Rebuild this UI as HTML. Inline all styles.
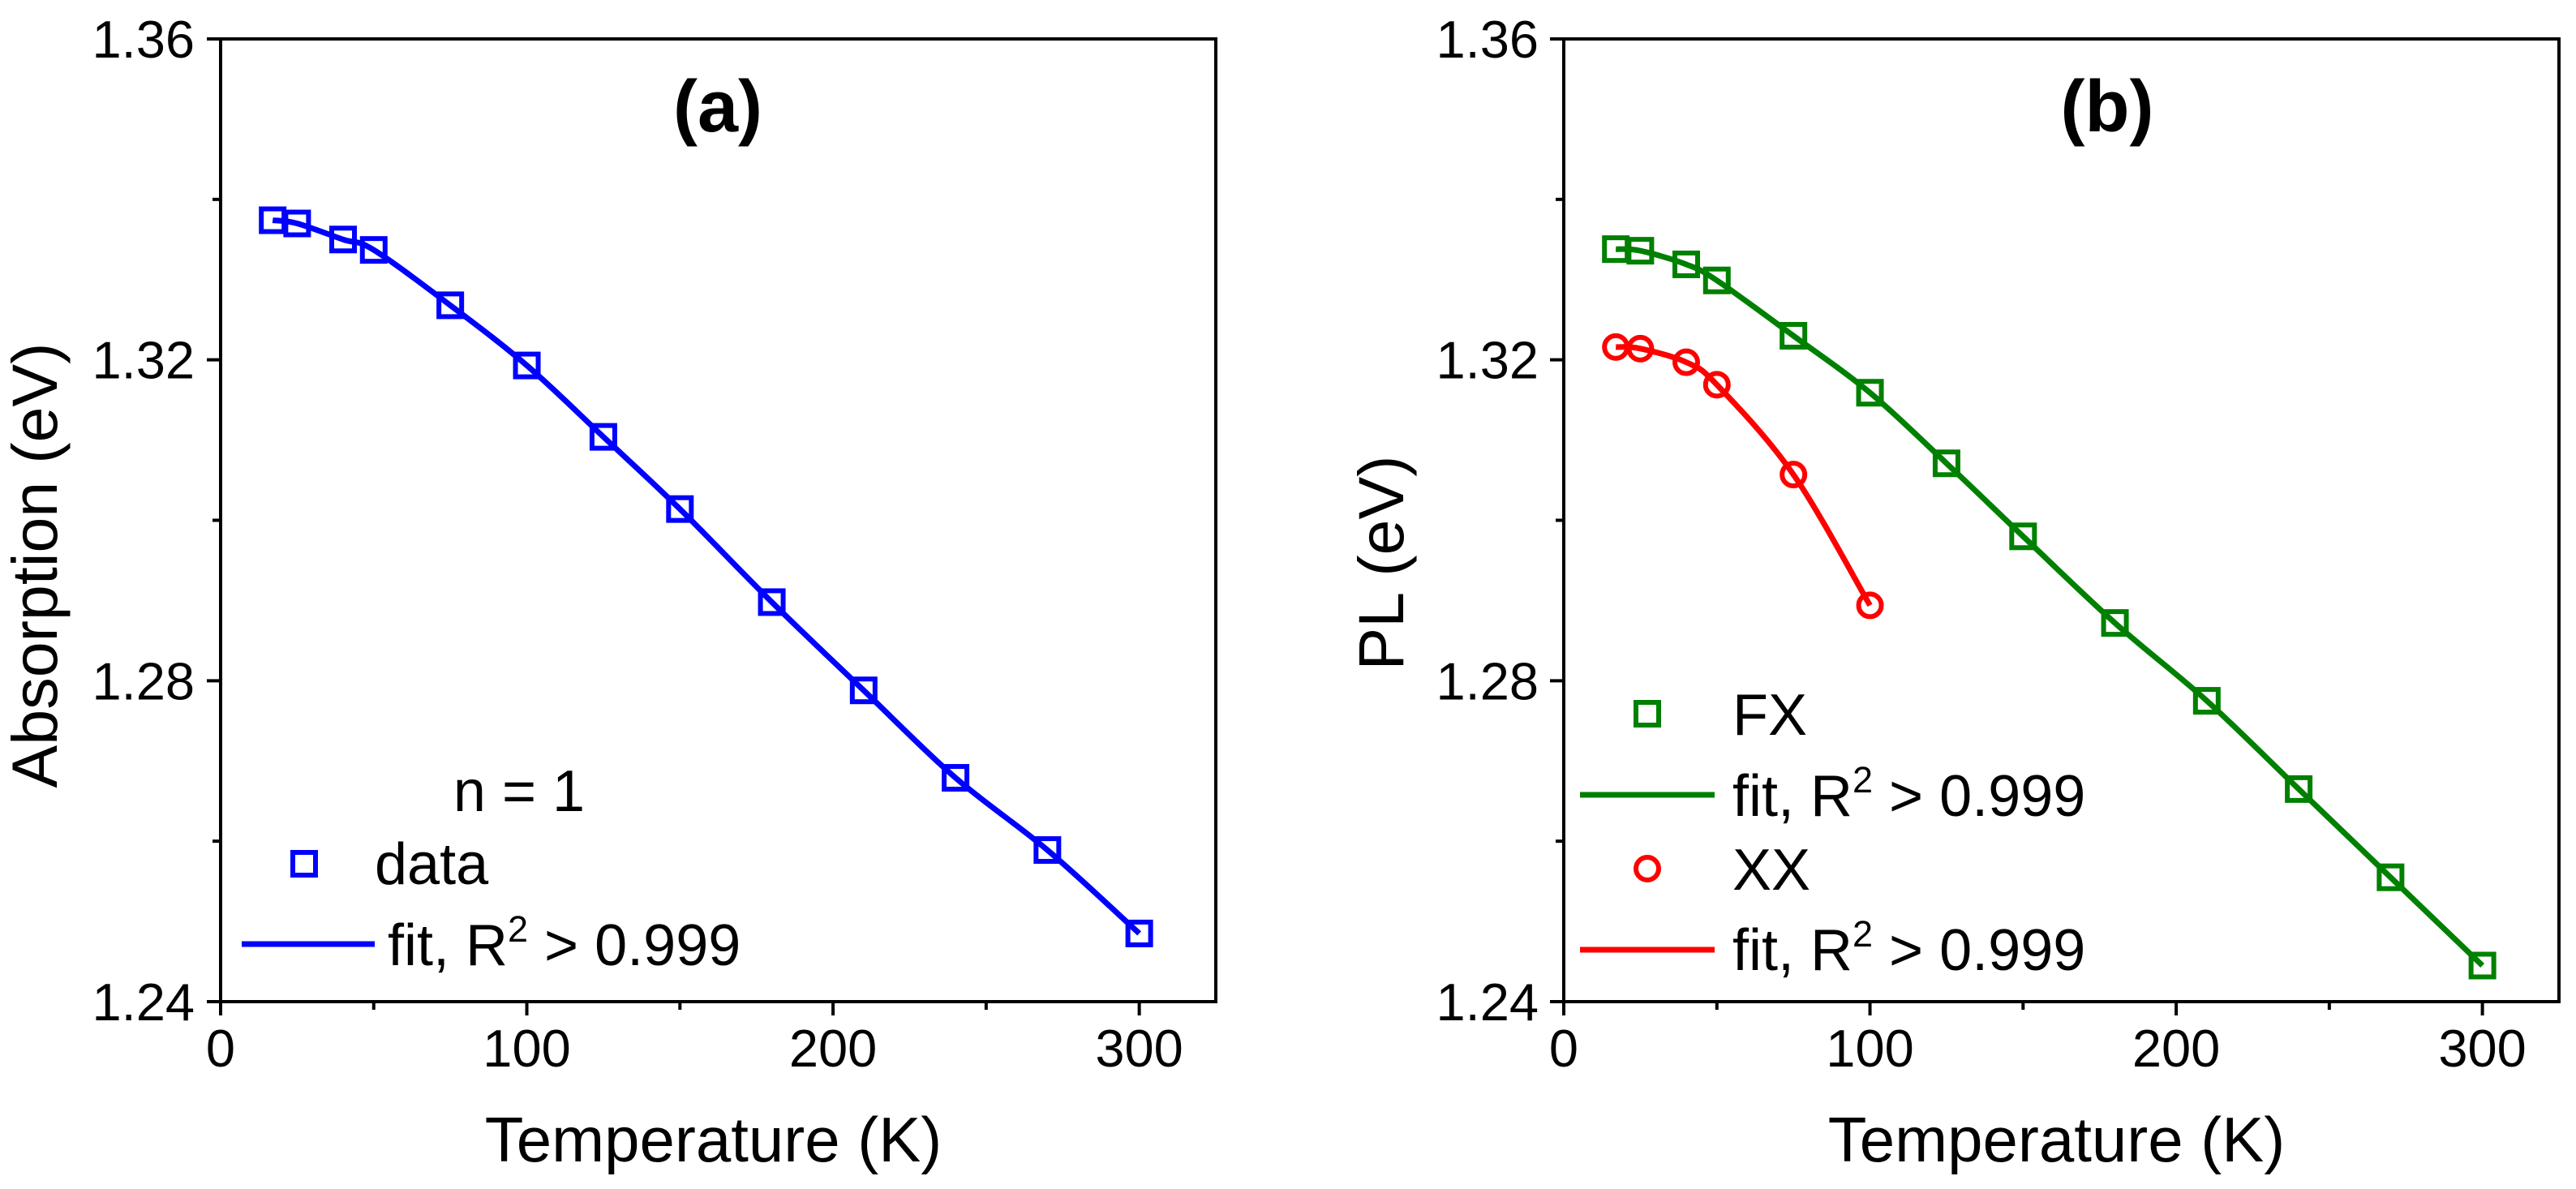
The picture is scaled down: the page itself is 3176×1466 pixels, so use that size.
<!DOCTYPE html>
<html><head><meta charset="utf-8">
<style>
html,body{margin:0;padding:0;background:#fff;}
svg{display:block;font-family:"Liberation Sans",Arial,sans-serif;}
</style></head>
<body>
<svg id="chart" width="3176" height="1466" viewBox="0 0 3176 1466" xmlns="http://www.w3.org/2000/svg"></svg>
<script>
const temps = [17, 25, 40, 50, 75, 100, 125, 150, 180, 210, 240, 270, 300];
const absorption = [1.3374, 1.3370, 1.3350, 1.3337, 1.3268, 1.3193, 1.3104, 1.3014, 1.2898, 1.2788, 1.2679, 1.2589, 1.2485];
const fxValues = [1.3338, 1.3336, 1.3319, 1.3299, 1.3230, 1.3159, 1.3071, 1.2980, 1.2872, 1.2775, 1.2665, 1.2555, 1.2445];
const xxTemps = [17, 25, 40, 50, 75, 100];
const xxValues = [1.3216, 1.3214, 1.3197, 1.3169, 1.3057, 1.2894];
const xTicks = [0, 100, 200, 300];
const xMinor = [50, 150, 250];
const yTicks = [1.24, 1.28, 1.32, 1.36];
const yMinor = [1.26, 1.30, 1.34];
const yTickLabels = ["1.24", "1.28", "1.32", "1.36"];

const NS = "http://www.w3.org/2000/svg";
const svg = document.getElementById('chart');
function mk(tag, attrs, parent, text){
  const e = document.createElementNS(NS, tag);
  for (const k in attrs) e.setAttribute(k, attrs[k]);
  if (text !== undefined) e.textContent = text;
  (parent || svg).appendChild(e);
  return e;
}
const TOP = 48, BOT = 1235;
const LFS = 72;
function makeAxes(left, right){
  const xs = v => left + (v - 0) / 325 * (right - left);
  const ys = v => BOT - (v - 1.24) / 0.12 * (BOT - TOP);
  return {xs, ys};
}
function smoothPath(px, py){
  let d = `M${px[0]},${py[0]}`;
  for (let i = 0; i < px.length - 1; i++){
    const x0 = px[Math.max(0,i-1)], y0 = py[Math.max(0,i-1)];
    const x1 = px[i], y1 = py[i], x2 = px[i+1], y2 = py[i+1];
    const x3 = px[Math.min(px.length-1,i+2)], y3 = py[Math.min(px.length-1,i+2)];
    const c1x = x1 + (x2 - x0)/6, c1y = y1 + (y2 - y0)/6;
    const c2x = x2 - (x3 - x1)/6, c2y = y2 - (y3 - y1)/6;
    d += ` C${c1x},${c1y} ${c2x},${c2y} ${x2},${y2}`;
  }
  return d;
}
function drawFrame(g, left, right, ax, yTitle, yTitleX, labelRight, panelLabel, panelX, prefix){
  const fr = mk('rect', {x:left, y:TOP, width:right-left, height:BOT-TOP, fill:'none', stroke:'#000', 'stroke-width':4}, g);
  
  
  xTicks.forEach(v => {
    const t = mk('line', {x1:ax.xs(v), x2:ax.xs(v), y1:BOT, y2:BOT+17, stroke:'#000','stroke-width':4}, g);
    
    
    const l = mk('text', {x:ax.xs(v), y:1315, 'font-size':65, 'text-anchor':'middle'}, g, String(v));
    
    
  });
  xMinor.forEach(v => {
    const t = mk('line', {x1:ax.xs(v), x2:ax.xs(v), y1:BOT, y2:BOT+10, stroke:'#000','stroke-width':4}, g);
    
    
  });
  yTicks.forEach((v,i) => {
    const t = mk('line', {x1:left-17, x2:left, y1:ax.ys(v), y2:ax.ys(v), stroke:'#000','stroke-width':4}, g);
    
    
    const l = mk('text', {x:labelRight, y:ax.ys(v)+23, 'font-size':65, 'text-anchor':'end'}, g, yTickLabels[i]);
    
    
  });
  yMinor.forEach(v => {
    const t = mk('line', {x1:left-10, x2:left, y1:ax.ys(v), y2:ax.ys(v), stroke:'#000','stroke-width':4}, g);
    
    
  });
  const xt = mk('text', {x:(left+right)/2 - 6, y:1432, 'font-size':78, 'text-anchor':'middle'}, g, 'Temperature (K)');
  
  
  const yt = mk('text', {x:0, y:0, 'font-size':79, 'text-anchor':'middle', transform:`translate(${yTitleX},${yTitle[1]}) rotate(-90)`}, g, yTitle[0]);
  
  
  const pl = mk('text', {x:panelX, y:162, 'font-size':90, 'font-weight':'bold', 'text-anchor':'middle'}, g, panelLabel);
  
  
}
function square(g, x, y, color, name){
  const r = mk('rect', {x:x-14, y:y-14, width:28, height:28, fill:'none', stroke:color, 'stroke-width':6}, g);
  
  
}
function circle(g, x, y, color, name){
  const c = mk('circle', {cx:x, cy:y, r:14, fill:'none', stroke:color, 'stroke-width':6}, g);
  
  
}
const fitHTML = 'fit, R<tspan dy="-29" font-size="45">2</tspan><tspan dy="29"> &gt; 0.999</tspan>';

// Panel A
const gA = mk('g', {});


const axA = makeAxes(272, 1499);
drawFrame(gA, 272, 1499, axA, ['Absorption (eV)', 697], 70, 240, '(a)', 885, 'panel-a');
const fitA = mk('path', {d:smoothPath(temps.map(axA.xs), absorption.map(axA.ys)), fill:'none', stroke:'#0000ff', 'stroke-width':7}, gA);


temps.forEach((t,i) => square(gA, axA.xs(t), axA.ys(absorption[i]), '#0000ff', 'absorption-data-point'));
const nl = mk('text', {x:640, y:1000, 'font-size':LFS, 'text-anchor':'middle'}, gA, 'n = 1');


square(gA, 375, 1065, '#0000ff', 'legend-data-marker');
const ld = mk('text', {x:462, y:1090, 'font-size':LFS}, gA, 'data');


const lfa = mk('line', {x1:298, x2:462, y1:1164, y2:1164, stroke:'#0000ff', 'stroke-width':7}, gA);


const lft = mk('text', {x:478, y:1190, 'font-size':LFS}, gA);


lft.innerHTML = fitHTML;

// Panel B
const gB = mk('g', {});


const axB = makeAxes(1928, 3155);
drawFrame(gB, 1928, 3155, axB, ['PL (eV)', 694], 1730, 1897, '(b)', 2598, 'panel-b');
const fitFX = mk('path', {d:smoothPath(temps.map(axB.xs), fxValues.map(axB.ys)), fill:'none', stroke:'#008000', 'stroke-width':7}, gB);


const fitXX = mk('path', {d:smoothPath(xxTemps.map(axB.xs), xxValues.map(axB.ys)), fill:'none', stroke:'#ff0000', 'stroke-width':7}, gB);


temps.forEach((t,i) => square(gB, axB.xs(t), axB.ys(fxValues[i]), '#008000', 'fx-data-point'));
xxTemps.forEach((t,i) => circle(gB, axB.xs(t), axB.ys(xxValues[i]), '#ff0000', 'xx-data-point'));
square(gB, 2031, 880, '#008000', 'legend-fx-marker');
const lfx = mk('text', {x:2136, y:906, 'font-size':LFS}, gB, 'FX');


const lf1 = mk('line', {x1:1948, x2:2114, y1:980, y2:980, stroke:'#008000', 'stroke-width':7}, gB);


const lf1t = mk('text', {x:2136, y:1006, 'font-size':LFS}, gB);


lf1t.innerHTML = fitHTML;
circle(gB, 2031, 1071, '#ff0000', 'legend-xx-marker');
const lxx = mk('text', {x:2136, y:1097, 'font-size':LFS}, gB, 'XX');


const lf2 = mk('line', {x1:1948, x2:2114, y1:1171, y2:1171, stroke:'#ff0000', 'stroke-width':7}, gB);


const lf2t = mk('text', {x:2136, y:1196, 'font-size':LFS}, gB);


lf2t.innerHTML = fitHTML;
</script>
</body></html>
